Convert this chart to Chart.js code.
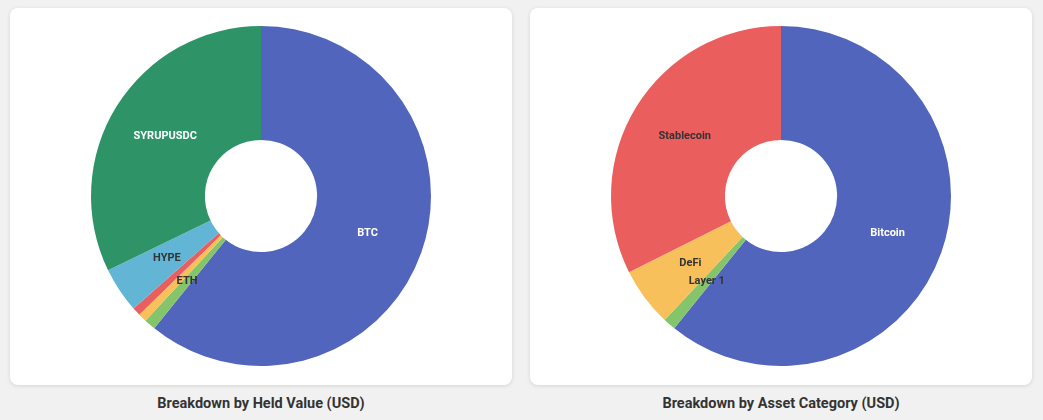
<!DOCTYPE html><html><head><script src="https://cdn.jsdelivr.net/npm/chart.js@4"></script>
<style>
body{margin:0;background:#f1f1f1;font-family:Roboto,sans-serif;width:1043px;height:420px;overflow:hidden}
.card{position:absolute;top:8px;width:502px;height:377px;background:#fff;border-radius:8px;box-shadow:0 1px 4px rgba(0,0,0,.12)}
.t{position:absolute;top:395px;width:502px;text-align:center;font-weight:bold;font-size:14.5px;color:#333}
canvas{display:block}
</style></head><body>
<div class="card" style="left:10px"><canvas id="c1" width="502" height="377"></canvas></div>
<div class="card" style="left:530px"><canvas id="c2" width="502" height="377"></canvas></div>
<div class="t" style="left:10px">Breakdown by Held Value (USD)</div>
<div class="t" style="left:530px">Breakdown by Asset Category (USD)</div>
<script>
const heldLabels=["BTC","ETH","Other A","Other B","HYPE","SYRUPUSDC"];
const heldValues=[60.8,1.1,0.8,0.8,4.3,32.2];
const heldShown=[true,true,false,false,true,true];
const heldTextDark=[false,true,true,true,true,false];
const catLabels=["Bitcoin","Layer 1","DeFi","Stablecoin"];
const catValues=[60.8,1.2,5.6,32.4];
const catShown=[true,true,true,true];
const catTextDark=[false,true,true,true];
const heldColors=["#5065BB","#84C46A","#F8C05A","#E95E5E","#63B5D6","#2E9467"];
const catColors=["#5065BB","#84C46A","#F8C05A","#EB5E5E"];
function mk(id,labels,values,colors,shown,dark,offs){
 new Chart(document.getElementById(id),{type:'doughnut',
 data:{labels,datasets:[{data:values,backgroundColor:colors,borderWidth:0}]},
 options:{responsive:false,animation:false,cutout:'33%',layout:{padding:{top:18,bottom:19}},
  plugins:{legend:{display:false},tooltip:{enabled:false}}},
 plugins:[{id:'lbl',afterDatasetsDraw(ch){const ctx=ch.ctx;const meta=ch.getDatasetMeta(0);
  ctx.save();ctx.font='bold 11px Roboto, sans-serif';ctx.textAlign='center';ctx.textBaseline='middle';
  meta.data.forEach((a,i)=>{if(!shown[i])return;const p=a.tooltipPosition();const o=offs[i]||[0,0];
   ctx.fillStyle=dark[i]?'#333':'#fff';ctx.fillText(labels[i],p.x+o[0],p.y+o[1]);});ctx.restore();}}]});
}
mk('c1',heldLabels,heldValues,heldColors,heldShown,heldTextDark,{});
mk('c2',catLabels,catValues,catColors,catShown,catTextDark,{});
</script></body></html>
